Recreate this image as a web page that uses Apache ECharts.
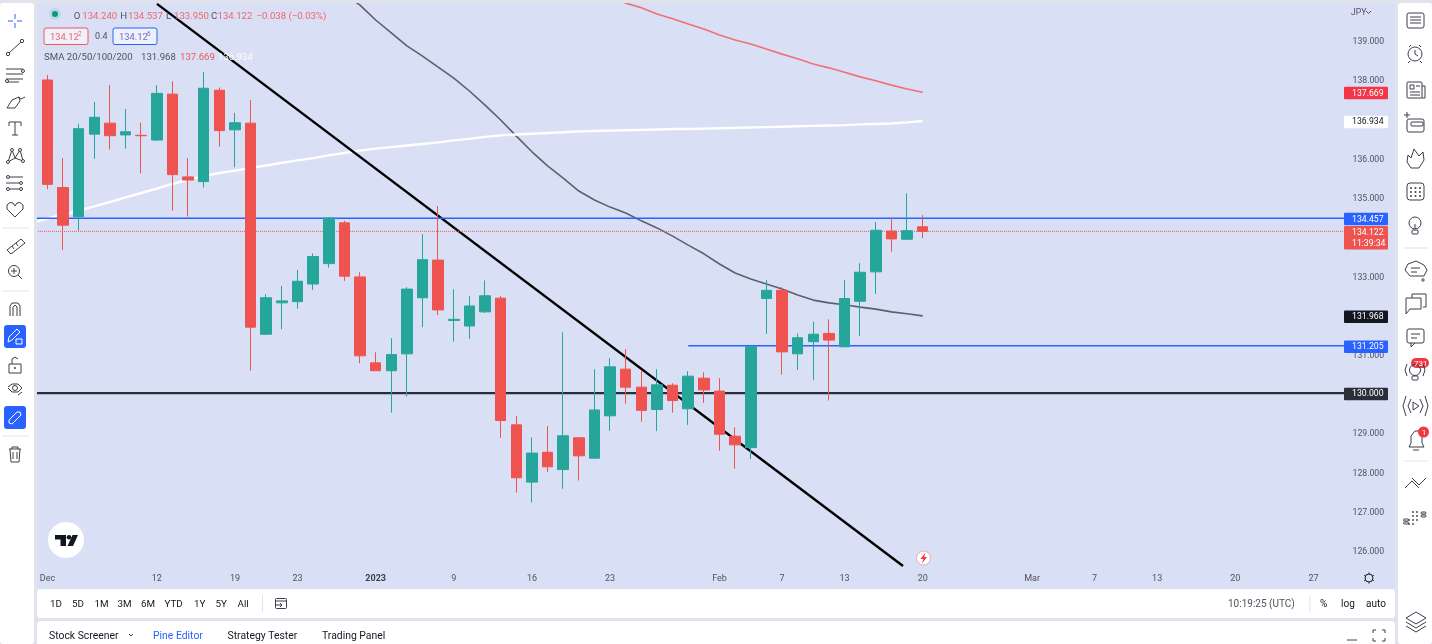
<!DOCTYPE html>
<html>
<head>
<meta charset="utf-8">
<title>USD/JPY daily</title>
<style>
  html, body { margin: 0; padding: 0; background: #e0e3eb; }
  #chart { width: 1432px; height: 644px; }
</style>
<script src="https://cdn.jsdelivr.net/npm/echarts@6/dist/echarts.min.js"></script>
</head>
<body>
<div id="chart"></div>
<script>
// x axis labels, first slot is blank so Dec 1 sits one band in from the grid edge
const tickLabels = [
  '', 'Dec', '', '', '', '', '', '', '12', '', '', '', '', '19', '', '', '', '23', '', '', '', '',
  '2023', '', '', '', '', '9', '', '', '', '', '16', '', '', '', '', '23', '', '', '', '', '', '',
  'Feb', '', '', '', '7', '', '', '', '13', '', '', '', '', '20', '', '', '', '', '', '', 'Mar',
  '', '', '', '7', '', '', '', '13', '', '', '', '', '20', '', '', '', '', '27', '', ''
];

// [open, close, low, high]
const candles = [
  [137.98, 135.32, 135.20, 138.11], [135.24, 134.28, 133.65, 135.99], [134.50, 136.74, 134.14, 136.86],
  [136.60, 137.03, 135.97, 137.42], [136.88, 136.56, 136.21, 137.85], [136.58, 136.66, 136.23, 137.24],
  [136.57, 136.56, 135.60, 136.89], [136.45, 137.64, 136.43, 137.85], [137.62, 135.57, 134.65, 137.95],
  [135.51, 135.43, 134.50, 135.99], [135.39, 137.77, 135.24, 138.18], [137.72, 136.69, 136.28, 137.79],
  [136.71, 136.89, 135.76, 137.14], [136.88, 131.68, 130.57, 137.47], [131.50, 132.43, 131.49, 132.52],
  [132.30, 132.35, 131.63, 132.73], [132.33, 132.85, 132.15, 133.14], [132.78, 133.48, 132.63, 133.56],
  [133.30, 134.46, 133.20, 134.48], [134.34, 132.98, 132.86, 134.39], [132.96, 130.95, 130.76, 133.08],
  [130.77, 130.57, 130.57, 131.04], [130.57, 130.98, 129.50, 131.40], [131.00, 132.65, 129.91, 132.70],
  [132.43, 133.40, 131.68, 134.05], [133.39, 132.12, 131.99, 134.77], [131.85, 131.88, 131.31, 132.65],
  [131.71, 132.22, 131.38, 132.47], [132.07, 132.48, 132.04, 132.87], [132.42, 129.30, 128.86, 132.47],
  [129.19, 127.84, 127.46, 129.42], [127.73, 128.47, 127.21, 128.87], [128.49, 128.12, 127.99, 129.16],
  [128.05, 128.91, 127.56, 131.55], [128.86, 128.40, 127.77, 128.88], [128.34, 129.57, 128.33, 130.61],
  [129.42, 130.67, 129.04, 130.89], [130.61, 130.15, 129.73, 131.12], [130.15, 129.56, 129.27, 130.59],
  [129.58, 130.21, 129.03, 130.61], [130.20, 129.81, 129.50, 130.25], [129.60, 130.43, 129.19, 130.56],
  [130.38, 130.08, 129.75, 130.53], [130.05, 128.95, 128.53, 130.38], [128.90, 128.68, 128.07, 129.13],
  [128.61, 131.18, 128.32, 131.18], [132.41, 132.62, 131.51, 132.88], [132.62, 131.05, 130.47, 132.70],
  [131.00, 131.41, 130.59, 131.52], [131.31, 131.50, 130.33, 131.82], [131.52, 131.35, 129.81, 131.88],
  [131.18, 132.41, 131.17, 132.88], [132.34, 133.08, 131.46, 133.31], [133.09, 134.15, 132.53, 134.36],
  [134.13, 133.93, 133.60, 134.46], [133.92, 134.14, 133.91, 135.09], [134.24, 134.122, 133.95, 134.537]
];

// moving averages, each starts at the slot given by its offset
const sma50Offset = 20;
const sma50 = [140.17, 139.89, 139.51, 139.18, 138.85, 138.59, 138.31, 138.03, 137.70, 137.34, 136.96, 136.55,
  136.15, 135.79, 135.48, 135.15, 134.92, 134.74, 134.59, 134.39, 134.21, 134.00, 133.77, 133.55, 133.29, 133.06,
  132.91, 132.78, 132.65, 132.50, 132.37, 132.30, 132.25, 132.19, 132.14, 132.07, 132.02, 131.968];
const sma100Offset = 37;
const sma100 = [140.10, 139.94, 139.82, 139.66, 139.54, 139.41, 139.28, 139.13, 139.00, 138.90, 138.77, 138.64,
  138.52, 138.39, 138.29, 138.18, 138.06, 137.96, 137.85, 137.75, 137.669];
const sma200Offset = 0;
const sma200 = [134.34, 134.45, 134.55, 134.65, 134.76, 134.87, 134.99, 135.10, 135.21, 135.33, 135.44, 135.53,
  135.61, 135.67, 135.74, 135.80, 135.87, 135.93, 135.99, 136.06, 136.12, 136.18, 136.23, 136.27, 136.31, 136.35,
  136.39, 136.44, 136.48, 136.53, 136.57, 136.59, 136.61, 136.63, 136.65, 136.67, 136.68, 136.69, 136.70, 136.71,
  136.72, 136.73, 136.73, 136.74, 136.75, 136.76, 136.77, 136.78, 136.79, 136.80, 136.81, 136.82, 136.83, 136.85,
  136.86, 136.87, 136.90, 136.934];

// drawn lines as [slot, price]
const trendLine = [[8.01, 139.92], [55.74, 125.59]];
const resistance = [[-0.5, 134.457], [84.5, 134.457]];
const support = [[42, 131.205], [84.5, 131.205]];
const roundLevel = [[-0.5, 130], [84.5, 130]];
const lastPrice = [[-0.5, 134.122], [84.5, 134.122]];

// price scale tags
const tagValues = [137.669, 136.934, 134.457, 134.122, 131.968, 131.205, 130];
const tagTexts = ['137.669', '136.934', '134.457', '134.122\n11:39:34', '131.968', '131.205', '130.000'];
const tagColors = ['#f23645', '#ffffff', '#2962ff', '#ef5350', '#131722', '#2962ff', '#2a2e39'];
const tagInk = ['#fff', '#131722', '#fff', '#fff', '#fff', '#fff', '#fff'];

const rangeButtons = [['1D', 50], ['5D', 72], ['1M', 94.5], ['3M', 117.5], ['6M', 141], ['YTD', 164.5], ['1Y', 194], ['5Y', 215.5], ['All', 237.5]];
const bottomTabs = [['Stock Screener', 49, '#131722'], ['Pine Editor', 153, '#2962ff'], ['Strategy Tester', 227.5, '#131722'], ['Trading Panel', 322, '#131722']];

const FONT = 'Roboto, sans-serif';
const INK = '#3b3f4b';
const RED = '#ef5350';
const GREEN = '#26a69a';
const PANEL = '#d9dff4';

// small helpers for the toolbars around the chart
const box = (x, y, w, h, r, fill, stroke, z) => ({ type: 'rect', silent: true, z: z === undefined ? 100 : z, shape: { x, y, width: w, height: h, r }, style: { fill, stroke: stroke || null, lineWidth: 1 } });
const line = (x1, y1, x2, y2, c, w) => ({ type: 'line', silent: true, z: 101, shape: { x1, y1, x2, y2 }, style: { stroke: c || INK, lineWidth: w || 1 } });
const dot = (cx, cy, r, fill, stroke) => ({ type: 'circle', silent: true, z: 101, shape: { cx, cy, r }, style: { fill: fill || 'none', stroke: stroke || (fill ? null : INK), lineWidth: 1 } });
const poly = (points, c) => ({ type: 'polyline', silent: true, z: 101, shape: { points }, style: { stroke: c || INK, lineWidth: 1, fill: 'none' } });
const shape = (points, fill) => ({ type: 'polygon', silent: true, z: 101, shape: { points }, style: { fill } });
const label = (x, y, text, size, fill, extra) => ({ type: 'text', silent: true, z: 102, x, y: y + 0.7, style: Object.assign({ text, fill, font: size + 'px ' + FONT, verticalAlign: 'middle', align: 'left' }, extra || {}) });

function chrome() {
  const g = [];
  // page panels
  g.push(box(37, 3, 1358, 586, 4, PANEL, null, -1));
  g.push(box(0, 0, 37, 644, 0, '#e0e3eb'));
  g.push(box(0, 0, 1432, 3, 0, '#e0e3eb'));
  g.push(box(0, 3, 34, 641, 3, '#ffffff'));
  g.push(box(1395, 0, 37, 644, 0, '#e0e3eb'));
  g.push(box(1398, 3, 34, 641, 3, '#ffffff'));
  g.push(box(37, 589, 1358, 55, 0, '#e0e3eb'));
  g.push(box(37, 589, 1358, 29, 4, '#ffffff'));
  g.push(box(37, 621, 1358, 30, 4, '#ffffff'));

  // legend
  g.push(dot(55, 14, 6, '#bcd9e3'), dot(55, 14, 3, '#089981'));
  const ohlc = [['O', '134.240', 73.7, 82.3], ['H', '134.537', 120.3, 128], ['L', '133.950', 166, 174], ['C', '134.122', 211, 217.5]];
  ohlc.forEach(([k, v, x, vx]) => {
    g.push(label(x, 16, k, 9.6, '#50535e'));
    g.push(label(vx, 16, v, 9.6, '#f0686a'));
  });
  g.push(label(256.5, 16, '\u22120.038 (\u22120.03%)', 9.6, '#f0686a'));
  g.push(box(44, 28, 44, 16.5, 2, '#eef0fa', '#f0565a'));
  g.push(label(50, 36.5, '134.12', 9.4, '#f0686a'), label(78, 33.5, '2', 6.5, '#f0686a'));
  g.push(label(95, 36.5, '0.4', 9, '#50535e'));
  g.push(box(113, 28, 44, 16.5, 2, '#eef0fa', '#2962ff'));
  g.push(label(119, 36.5, '134.12', 9.4, '#6a6fd0'), label(147, 33.5, '6', 6.5, '#6a6fd0'));
  g.push(label(44, 57, 'SMA 20/50/100/200', 9.6, '#50535e'));
  g.push(label(141, 57, '131.968', 9.6, '#50535e'), label(180, 57, '137.669', 9.6, '#f0565f'), label(218, 57, '136.934', 9.6, '#ffffff'));
  g.push(label(1351, 12, 'JPY', 8.6, '#50535e'), poly([[1366, 11], [1368.5, 13.5], [1371, 11]], '#50535e'));

  // logo, alert mark and settings wheel on the pane
  g.push(dot(66, 540, 18, '#ffffff'));
  g.push(shape([[55, 535], [66, 535], [66, 546], [60.5, 546], [60.5, 539.5], [55, 539.5]], '#131722'));
  g.push(dot(69, 537.3, 2.3, '#131722'));
  g.push(shape([[72.5, 535], [78, 535], [73, 546], [67.5, 546]], '#131722'));
  g.push(dot(923.5, 558, 7, '#ffffff', '#f7a6b0'));
  g.push(shape([[925.5, 552.5], [920.5, 559], [923.3, 559], [922, 563.5], [927, 557], [924.2, 557]], '#f23645'));
  g.push(dot(1369, 578, 4, 'none', '#131722'));
  [[0, -5.5], [4.8, -2.8], [4.8, 2.8], [0, 5.5], [-4.8, 2.8], [-4.8, -2.8]].forEach(([a, b]) => {
    g.push(line(1369 + a * 0.75, 578 + b * 0.75, 1369 + a, 578 + b, '#131722'));
  });

  // left drawing tools
  const blue = '#2962ff';
  g.push(line(15, 14, 15, 19, blue), line(15, 23, 15, 28, blue), line(8, 21, 13, 21, blue), line(17, 21, 22, 21, blue));
  g.push(line(9, 53, 21, 42), dot(8, 54, 1.7, '#fff', INK), dot(22, 41, 1.7, '#fff', INK));
  g.push(line(6, 69, 23, 69), line(6, 74, 23, 74), line(6, 79, 23, 79), line(6, 82, 19, 82), dot(23, 71, 1.5, '#fff', INK), dot(7, 81, 1.5, '#fff', INK));
  g.push(poly([[7, 108], [12, 100], [19, 97], [20, 101], [15, 108], [7, 108]]), poly([[18, 97], [21, 99], [25, 97]]));
  g.push(poly([[9, 126], [9, 122], [21, 122], [21, 126]]), line(15, 122, 15, 135), line(12, 135, 18, 135));
  g.push(poly([[8, 162], [12, 150], [15, 158], [20, 150], [23, 161], [15, 158], [8, 162]]), dot(8, 162, 1.5, '#fff', INK), dot(12, 150, 1.5, '#fff', INK), dot(20, 150, 1.5, '#fff', INK), dot(23, 161, 1.5, '#fff', INK));
  g.push(line(6, 177, 23, 177), line(6, 183, 23, 183), line(6, 189, 23, 189), dot(8, 177, 1.5, '#fff', INK), dot(21, 183, 1.5, '#fff', INK), dot(8, 189, 1.5, '#fff', INK), dot(21, 189, 1.5, '#fff', INK));
  g.push(poly([[15, 217], [7, 209], [7, 205], [10, 202.5], [13, 203], [15, 206], [17, 203], [20, 202.5], [23, 205], [23, 209], [15, 217]]));
  g.push(line(2, 228, 29, 228, '#e0e3eb'));
  g.push(poly([[7, 250], [21, 239], [25, 243], [11, 254], [7, 250]]), line(12, 246, 14, 249), line(16, 243, 18, 246));
  g.push(dot(14, 271, 5.5), line(18, 275, 22, 279), line(11, 271, 17, 271), line(14, 268, 14, 274));
  g.push(line(2, 291, 29, 291, '#e0e3eb'));
  g.push(poly([[10, 316], [10, 306], [12, 303], [18, 303], [20, 306], [20, 316]]), poly([[13, 316], [13, 307], [15, 305], [17, 307], [17, 316]]));
  g.push(box(4, 325, 22, 23, 3, blue));
  g.push(poly([[8, 342], [9, 337], [17, 329], [20, 332], [12, 340], [8, 342]], '#fff'), box(16, 339, 6, 5, 0, 'none', '#fff', 101));
  g.push(box(9, 364, 12, 9, 0, 'none', INK, 101), poly([[12, 364], [12, 359], [15, 357], [18, 359]]), dot(15, 368, 1, INK));
  g.push(poly([[8, 387], [12, 384], [18, 384], [22, 388], [18, 392], [12, 392], [8, 388]]), dot(15, 388, 2.5), line(18, 395, 22, 392));
  g.push(box(4, 406, 22, 23, 3, blue));
  g.push(poly([[10, 419], [17, 412], [20, 412], [21, 415], [18, 418]], '#fff'), poly([[12, 417], [9, 420], [9, 423], [12, 424], [19, 417]], '#fff'));
  g.push(line(2, 436, 29, 436, '#e0e3eb'));
  g.push(line(9, 449, 21, 449), poly([[10, 449], [11, 462], [19, 462], [20, 449]]), line(13, 452, 13, 459), line(17, 452, 17, 459), poly([[12, 449], [12, 447], [18, 447], [18, 449]]));

  // right widget bar
  g.push(box(1407, 13, 17, 15, 2, 'none', INK, 101), line(1410, 17, 1421, 17), line(1410, 20, 1421, 20), line(1410, 23, 1421, 23));
  g.push(dot(1415, 54, 7), poly([[1415, 50], [1415, 54], [1418, 56]]), line(1409, 47, 1411, 45), line(1421, 47, 1419, 45), line(1410, 61, 1408, 63), line(1420, 61, 1422, 63));
  g.push(box(1407, 82, 15, 16, 1, 'none', INK, 101), box(1410, 85, 4, 4, 0, 'none', INK, 101), line(1416, 86, 1420, 86), line(1410, 92, 1420, 92), line(1410, 95, 1420, 95), poly([[1422, 86], [1425, 86], [1425, 98], [1422, 98]]));
  g.push(box(1407, 119, 17, 13, 2, 'none', INK, 101), box(1411, 122, 12, 4, 1, 'none', INK, 101), line(1404, 115, 1410, 115), line(1407, 112, 1407, 118));
  g.push(poly([[1414, 149], [1419, 156], [1423, 152], [1424, 160], [1419, 168], [1411, 168], [1407, 162], [1408, 155], [1411, 158], [1414, 149]]));
  g.push(box(1407, 183, 17, 17, 3, 'none', INK, 101));
  [1411, 1415.5, 1420].forEach(x => [188, 192, 196].forEach(y => g.push(dot(x, y, 1, INK))));
  g.push(dot(1415, 223, 6), box(1412, 230, 6, 4, 1, 'none', INK, 101), line(1415, 224, 1415, 229));
  g.push(line(1404, 248, 1428, 248, '#e0e3eb'));
  g.push(poly([[1405, 270], [1408, 264], [1416, 261], [1424, 265], [1427, 270], [1424, 276], [1410, 276], [1405, 270]]), line(1411, 268, 1420, 268), line(1411, 272, 1417, 272), dot(1423, 280, 1.2));
  g.push(poly([[1412, 298], [1412, 294], [1426, 294], [1426, 307], [1423, 307]]), poly([[1406, 298], [1421, 298], [1421, 309], [1410, 309], [1406, 314], [1406, 298]]));
  g.push(box(1407, 329, 17, 14, 2, 'none', INK, 101), line(1411, 334, 1420, 334), line(1411, 338, 1417, 338), poly([[1411, 343], [1411, 347], [1415, 343]]));
  g.push(dot(1415, 370, 5.5), box(1412, 376, 6, 4, 1, 'none', INK, 101), poly([[1407, 364], [1405, 370], [1407, 376]]), poly([[1423, 364], [1425, 370], [1423, 376]]));
  g.push(box(1411, 358, 18, 10, 5, '#f23645'), label(1414, 363, '731', 8, '#fff'));
  g.push(poly([[1411, 399], [1408, 406], [1411, 413]]), poly([[1406, 396], [1403, 406], [1406, 416]]), poly([[1420, 399], [1423, 406], [1420, 413]]), poly([[1425, 396], [1428, 406], [1425, 416]]), poly([[1413, 402], [1419, 406], [1413, 410], [1413, 402]]));
  g.push(poly([[1409, 447], [1411, 443], [1411, 436], [1415, 431], [1419, 431], [1422, 436], [1422, 443], [1424, 447], [1409, 447]]), line(1413, 450, 1419, 450));
  g.push(dot(1423.5, 432, 5.5, '#f23645'), label(1421.8, 432, '1', 8, '#fff'));
  g.push(line(1404, 461, 1428, 461, '#e0e3eb'));
  g.push(poly([[1405, 488], [1412, 481], [1419, 488]]), poly([[1412, 478], [1419, 485], [1426, 478]]));
  [[1403.5, 522], [1403.5, 519]].forEach(([x, y]) => g.push(box(x, y, 5, 2, 1, 'none', INK, 101)));
  [[1421, 512], [1421, 515]].forEach(([x, y]) => g.push(box(x, y, 5, 2, 1, 'none', INK, 101)));
  [[1413, 512], [1413, 516], [1413, 520], [1413, 524], [1417, 512], [1417, 516], [1417, 520], [1409, 520], [1409, 524]].forEach(([x, y]) => g.push(dot(x, y, 0.9, INK)));
  g.push(poly([[1406, 618], [1416, 612], [1426, 618], [1416, 624], [1406, 618]]), poly([[1406, 622], [1416, 628], [1426, 622]]), poly([[1406, 626], [1416, 632], [1426, 626]]));

  // range buttons and session clock
  rangeButtons.forEach(([t, x]) => g.push(label(x, 604, t, 9.8, '#131722')));
  g.push(line(262.5, 595, 262.5, 612, '#e0e3eb'));
  g.push(box(275.5, 598.5, 11, 10, 1, 'none', INK, 101), line(275.5, 601, 286.5, 601), line(275, 605, 282, 605), poly([[280, 603], [282, 605], [280, 607]]));
  g.push(label(1228, 604, '10:19:25 (UTC)', 10, '#50535e'));
  g.push(line(1310, 595, 1310, 612, '#e0e3eb'));
  g.push(label(1320, 604, '%', 10, '#131722'), label(1341, 604, 'log', 10, '#131722'), label(1366, 604, 'auto', 10, '#131722'));

  // bottom tabs
  bottomTabs.forEach(([t, x, c]) => g.push(label(x, 635.5, t, 10.4, c)));
  g.push(poly([[129, 634], [131, 636], [133, 634]]));
  g.push(line(1347, 640, 1357, 640));
  g.push(poly([[1373, 633], [1373, 630], [1376, 630]]), poly([[1382, 630], [1385, 630], [1385, 633]]), poly([[1373, 638], [1373, 641], [1376, 641]]), poly([[1382, 641], [1385, 641], [1385, 638]]));
  return g;
}

const pad = (arr, offset) => Array(offset).fill(null).concat(arr);

const levelSeries = (name, data, color, width, type) => ({
  name, type: 'line', xAxisIndex: 1, z: 3, symbol: 'none', silent: true, data,
  lineStyle: { color, width, type: type || 'solid' }
});
const smaSeries = (name, arr, offset, color, width) => ({
  name, type: 'line', z: 3, symbol: 'none', silent: true, connectNulls: false, data: pad(arr, offset),
  lineStyle: { color, width }
});

const chart = echarts.init(document.getElementById('chart'), null, { renderer: 'canvas' });
chart.setOption({
  animation: false,
  backgroundColor: '#e0e3eb',
  textStyle: { fontFamily: FONT },
  // 85 bands of 15.63px, y axis runs 125 to 140 at 39.23px per yen
  grid: { left: 23.97, width: 1328.55, top: 0.77, height: 588.45, containLabel: false },
  xAxis: [
    {
      type: 'category', data: tickLabels, boundaryGap: true,
      axisLine: { show: false }, axisTick: { show: false }, splitLine: { show: false },
      axisLabel: {
        inside: true, margin: 6, interval: 0, fontSize: 9, color: '#50535e', hideOverlap: false,
        formatter: v => (v === '2023' ? '{b|2023}' : v),
        rich: { b: { fontSize: 9, fontWeight: 'bold', color: '#3b3f4b' } }
      }
    },
    { type: 'value', min: -0.5, max: 84.5, show: false, splitLine: { show: false } }
  ],
  yAxis: {
    type: 'value', position: 'right', min: 125, max: 140, interval: 1, scale: true,
    axisLine: { show: false }, axisTick: { show: false }, splitLine: { show: false },
    axisLabel: {
      margin: 0, fontSize: 8.7, color: '#50535e', verticalAlign: 'top', lineHeight: 4,
      formatter: v => (v <= 125 || v >= 140 ? '' : v.toFixed(3))
    }
  },
  series: [
    smaSeries('SMA 50', sma50, sma50Offset, '#5d606b', 1.6),
    smaSeries('SMA 100', sma100, sma100Offset, '#f0707a', 1.6),
    smaSeries('SMA 200', sma200, sma200Offset, '#ffffff', 2.4),
    levelSeries('Trend', trendLine, '#000000', 2.4),
    levelSeries('Resistance', resistance, '#2962ff', 1.6),
    levelSeries('Support', support, '#2962ff', 1.6),
    levelSeries('130', roundLevel, '#2a2e39', 2.2),
    levelSeries('Last', lastPrice, '#f0565a', 1, 'dotted'),
    {
      name: 'USDJPY', type: 'candlestick', z: 5, barWidth: 11, silent: true,
      data: [null].concat(candles).map(c => c || ['-', '-', '-', '-']),
      itemStyle: { color: GREEN, color0: RED, borderColor: GREEN, borderColor0: RED, borderWidth: 1 }
    },
    {
      name: 'Tags', type: 'custom', z: 50, silent: true, clip: false,
      data: tagValues.map(v => [0, v]),
      renderItem: (params, api) => {
        const i = params.dataIndex;
        const y = api.coord([0, api.value(1)])[1];
        const lines = tagTexts[i].split('\n');
        const kids = [{ type: 'rect', shape: { x: 1344, y: y - 5.4, width: 44, height: lines.length * 11 + 1.5, r: 1 }, style: { fill: tagColors[i] } }];
        lines.forEach((t, k) => kids.push({
          type: 'text', style: { x: 1352, y: y + 1.2 + k * 11, text: t, fill: tagInk[i], font: '8.7px ' + FONT, verticalAlign: 'middle', align: 'left' }
        }));
        return { type: 'group', children: kids };
      }
    }
  ],
  graphic: { elements: chrome() }
});
</script>
</body>
</html>
